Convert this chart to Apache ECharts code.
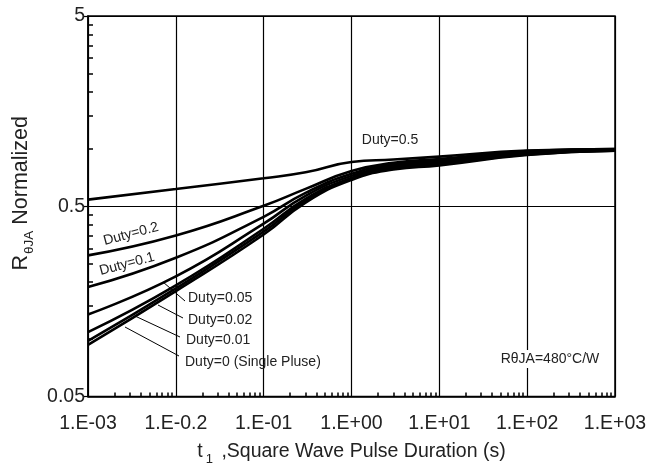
<!DOCTYPE html>
<html>
<head>
<meta charset="utf-8">
<script src="https://cdn.jsdelivr.net/npm/echarts@6/dist/echarts.min.js"></script>
<style>
  html, body { margin: 0; padding: 0; background: #fff; }
  #chart { width: 666px; height: 471px; }
</style>
</head>
<body>
<div id="chart"></div>
<script>
// pulse durations (s) where the curves were read
var tValues = [0.001, 0.01, 0.1, 0.3, 1, 3, 10, 100, 1000];

// normalized thermal resistance per duty cycle
var duty05 = [0.542, 0.616, 0.702, 0.754, 0.854, 0.88, 0.912, 0.98, 1.0];
var duty02 = [0.276, 0.351, 0.503, 0.617, 0.766, 0.845, 0.885, 0.975, 1.0];
var duty01 = [0.188, 0.268, 0.44, 0.588, 0.74, 0.83, 0.87, 0.964, 0.995];
var duty005 = [0.135, 0.214, 0.405, 0.567, 0.722, 0.815, 0.857, 0.952, 0.99];
var duty002 = [0.109, 0.192, 0.381, 0.547, 0.705, 0.8, 0.84, 0.94, 0.985];
var duty001 = [0.098, 0.185, 0.368, 0.535, 0.696, 0.79, 0.83, 0.935, 0.98];
var dutySingle = [0.0934, 0.179, 0.355, 0.523, 0.687, 0.78, 0.82, 0.93, 0.978];

// axis ticks
var xTickValues = [0.001, 0.01, 0.1, 1, 10, 100, 1000];
var xTickLabels = ["1.E-03", "1.E-0.2", "1.E-01", "1.E+00", "1.E+01", "1.E+02", "1.E+03"];
var yTickValues = [0.05, 0.5, 5];
var yTickLabels = ["0.05", "0.5", "5"];

// minor ticks: 2..9 inside each decade (x), 0.05 steps per band (y)
var xMinor = [];
xTickValues.slice(0, -1).forEach(function (d) {
  for (var k = 2; k <= 9; k++) xMinor.push(d * k);
});
var yMinor = [];
yTickValues.slice(0, -1).forEach(function (d) {
  for (var k = 2; k <= 9; k++) yMinor.push(d * k);
});

function pick(values, labels, v) {
  for (var i = 0; i < values.length; i++) {
    if (Math.abs(Math.log10(v) - Math.log10(values[i])) < 1e-6) return labels[i];
  }
  return "";
}

function pairs(ys) {
  return tValues.map(function (t, i) { return [t, ys[i]]; });
}

var font = "Liberation Sans, Arial, sans-serif";

function curve(name, ys) {
  return {
    name: name,
    type: "line",
    data: pairs(ys),
    smooth: 0.5,
    showSymbol: false,
    silent: true,
    lineStyle: { color: "#000", width: 2.6 },
    z: 5,
  };
}

var myChart = echarts.init(document.getElementById("chart"));
var option = {
  animation: false,
  backgroundColor: "#fff",
  grid: {
    left: 88,
    right: 51,
    top: 16,
    bottom: 72,
    show: true,
    borderColor: "#000",
    borderWidth: 1.5,
  },
  xAxis: [
    {
      type: "log",
      logBase: 10,
      min: 0.001,
      max: 1000,
      position: "bottom",
      name: "{a|t}{s|1}{a| ,Square Wave Pulse Duration (s)}",
      nameLocation: "middle",
      nameGap: 45,
      nameTextStyle: {
        rich: {
          a: { fontFamily: font, fontSize: 19.5, color: "#222", padding: [0, 0, 6, 0] },
          s: { fontFamily: font, fontSize: 13, color: "#222", padding: [10, 3, 0, 3] },
        },
      },
      axisLine: { show: true, lineStyle: { color: "#000", width: 1.5 } },
      axisTick: { show: false, customValues: xTickValues },
      axisLabel: {
        customValues: xTickValues,
        fontFamily: font,
        fontSize: 19.5,
        color: "#222",
        margin: 17,
        formatter: function (v) { return pick(xTickValues, xTickLabels, v); },
      },
      splitLine: { show: true, lineStyle: { color: "#000", width: 1.2 } },
    },
    {
      // minor ticks only
      type: "log",
      logBase: 10,
      min: 0.001,
      max: 1000,
      position: "bottom",
      axisLine: { show: false },
      axisLabel: { show: false },
      splitLine: { show: false },
      axisTick: {
        show: true,
        inside: true,
        length: 4,
        customValues: xMinor,
        lineStyle: { color: "#000", width: 1.5 },
      },
    },
  ],
  yAxis: [
    {
      type: "log",
      logBase: 10,
      min: 0.05,
      max: 5,
      position: "left",
      name: "{a|R}{s|θJA}{a| Normalized}",
      nameLocation: "middle",
      nameGap: 50,
      nameTextStyle: {
        padding: [0, 0, 0, 26],
        rich: {
          a: { fontFamily: font, fontSize: 21.5, color: "#222", padding: [0, 0, 6, 0] },
          s: { fontFamily: font, fontSize: 13.5, color: "#222", padding: [11, 0, 0, 1] },
        },
      },
      axisLine: { show: true, lineStyle: { color: "#000", width: 1.5 } },
      axisTick: {
        show: true,
        length: 5,
        customValues: yTickValues,
        lineStyle: { color: "#000", width: 1.2 },
      },
      axisLabel: {
        customValues: yTickValues,
        fontFamily: font,
        fontSize: 19.5,
        color: "#222",
        margin: 3,
        formatter: function (v) { return pick(yTickValues, yTickLabels, v); },
      },
      splitLine: { show: true, lineStyle: { color: "#000", width: 1.2 } },
    },
    {
      type: "log",
      logBase: 10,
      min: 0.05,
      max: 5,
      position: "left",
      axisLine: { show: false },
      axisLabel: { show: false },
      splitLine: { show: false },
      axisTick: {
        show: true,
        inside: true,
        length: 5,
        customValues: yMinor,
        lineStyle: { color: "#000", width: 1.5 },
      },
    },
  ],
  series: [
    curve("Duty=0.5", duty05),
    curve("Duty=0.2", duty02),
    curve("Duty=0.1", duty01),
    curve("Duty=0.05", duty005),
    curve("Duty=0.02", duty002),
    curve("Duty=0.01", duty001),
    curve("Duty=0 (Single Pluse)", dutySingle),
  ],
  graphic: [
    // leader lines for the lower labels
    { type: "line", shape: { x1: 185, y1: 301, x2: 163, y2: 282 }, style: { stroke: "#000", lineWidth: 1 }, z: 10 },
    { type: "line", shape: { x1: 183, y1: 318, x2: 158, y2: 305 }, style: { stroke: "#000", lineWidth: 1 }, z: 10 },
    { type: "line", shape: { x1: 180, y1: 337, x2: 135, y2: 316 }, style: { stroke: "#000", lineWidth: 1 }, z: 10 },
    { type: "line", shape: { x1: 179, y1: 356, x2: 125, y2: 327 }, style: { stroke: "#000", lineWidth: 1 }, z: 10 },
    { type: "text", x: 390, y: 140,
      style: { text: "Duty=0.5", font: "14px " + font, fill: "#222", align: "center", verticalAlign: "middle" }, z: 10 },
    { type: "text", x: 131, y: 234, rotation: 15 * Math.PI / 180,
      style: { text: "Duty=0.2", font: "14px " + font, fill: "#222", align: "center", verticalAlign: "middle" }, z: 10 },
    { type: "text", x: 127, y: 264, rotation: 15 * Math.PI / 180,
      style: { text: "Duty=0.1", font: "14px " + font, fill: "#222", align: "center", verticalAlign: "middle" }, z: 10 },
    { type: "text", x: 188, y: 298, style: { text: "Duty=0.05", font: "14px " + font, fill: "#222", verticalAlign: "middle" }, z: 10 },
    { type: "text", x: 188, y: 320, style: { text: "Duty=0.02", font: "14px " + font, fill: "#222", verticalAlign: "middle" }, z: 10 },
    { type: "text", x: 186, y: 340, style: { text: "Duty=0.01", font: "14px " + font, fill: "#222", verticalAlign: "middle" }, z: 10 },
    { type: "text", x: 185, y: 362, style: { text: "Duty=0 (Single Pluse)", font: "14px " + font, fill: "#222", verticalAlign: "middle" }, z: 10 },
    { type: "text", x: 550, y: 359,
      style: { text: "RθJA=480°C/W", font: "14px " + font, fill: "#222", align: "center", verticalAlign: "middle",
        backgroundColor: "#fff", padding: [2, 0] }, z: 10 },
  ],
};
myChart.setOption(option);
window.addEventListener("resize", function () {
  myChart.resize();
});
</script>
</body>
</html>
